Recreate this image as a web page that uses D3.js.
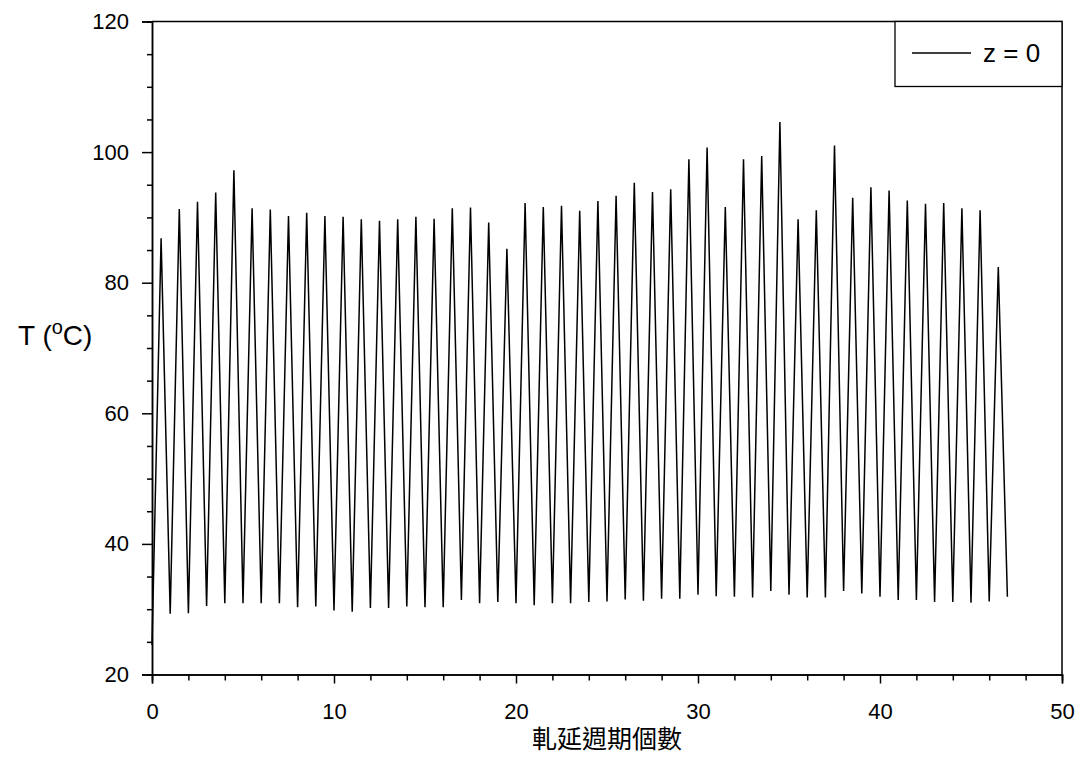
<!DOCTYPE html>
<html>
<head>
<meta charset="utf-8">
<script src="https://cdn.jsdelivr.net/npm/d3@7"></script>
<style>
  body { margin: 0; background: #ffffff; }
  text { font-family: "Liberation Sans", Arial, sans-serif; fill: #000; }
</style>
</head>
<body>
<script>
// Temperature at z = 0 over rolling cycles.
// Start value, then one peak (mid-cycle) and one trough (end of cycle) per cycle.
const startTemp = 24.5;
const peakTemps = [
  86.8, 91.3, 92.4, 93.8, 97.2, 91.4, 91.2, 90.2, 90.7, 90.2,
  90.1, 89.7, 89.5, 89.7, 90.1, 89.8, 91.4, 91.5, 89.2, 85.2,
  92.2, 91.6, 91.8, 91.0, 92.5, 93.3, 95.3, 93.9, 94.3, 98.9,
  100.7, 91.6, 98.9, 99.4, 104.6, 89.7, 91.1, 101.0, 93.0, 94.6,
  94.1, 92.6, 92.1, 92.2, 91.4, 91.1, 82.4
];
const troughTemps = [
  29.3, 29.4, 30.5, 30.9, 30.9, 30.9, 30.9, 30.3, 30.4, 29.8,
  29.6, 30.2, 30.2, 30.4, 30.3, 30.3, 31.4, 30.9, 31.1, 30.9,
  30.6, 30.9, 30.9, 31.1, 31.2, 31.5, 31.3, 31.6, 31.6, 32.2,
  32.0, 31.9, 31.8, 32.8, 32.2, 31.8, 31.8, 32.8, 32.4, 31.9,
  31.4, 31.4, 31.1, 31.1, 31.0, 31.2, 31.9
];
const xTicks = [0, 10, 20, 30, 40, 50];
const yTicks = [20, 40, 60, 80, 100, 120];
const seriesName = 'z = 0';
const xTitle = '軋延週期個數';

// Build the line points from the arrays.
const points = [{x: 0, y: startTemp}];
peakTemps.forEach((p, i) =>
  {
    points.push({x: i + 0.5, y: p});
    points.push({x: i + 1, y: troughTemps[i]});
  });

const size = {width: 1082, height: 784};
const plot = {left: 152, top: 21.5, right: 1062, bottom: 674.5};

const svg = d3.select('body')
      .append('svg')
      .attr('width', size.width)
      .attr('height', size.height);

const x = d3.scaleLinear().domain([0, 50]).range([plot.left, plot.right]);
const y = d3.scaleLinear().domain([20, 120]).range([plot.bottom, plot.top]);

// Data line.
const line = d3.line()
      .x((d) => x(d.x))
      .y((d) => y(d.y));

svg.append('path')
  .datum(points)
  .attr('d', line)
  .attr('fill', 'none')
  .attr('stroke', '#000')
  .attr('stroke-width', 1.5)
  .attr('stroke-linejoin', 'miter')
  .attr('stroke-miterlimit', 4);

// Frame (top and right).
svg.append('path')
  .attr('d', 'M' + x(0) + ',' + y(120) + 'H' + x(50) + 'V' + y(20))
  .attr('fill', 'none')
  .attr('stroke', '#000')
  .attr('stroke-width', 1.5);

// X axis: major and minor ticks.
const xAxis = d3.axisBottom(x)
      .tickValues(xTicks)
      .tickSize(9)
      .tickPadding(20)
      .tickFormat(d3.format('d'));
const xMinor = d3.axisBottom(x)
      .tickValues(d3.range(0, 51, 2).filter((v) => v % 10 !== 0))
      .tickSize(6)
      .tickFormat('');

svg.append('g')
  .attr('transform', 'translate(0,' + y(20) + ')')
  .call(xAxis);
svg.append('g')
  .attr('transform', 'translate(0,' + y(20) + ')')
  .call(xMinor);

// Y axis.
const yAxis = d3.axisLeft(y)
      .tickValues(yTicks)
      .tickSize(10)
      .tickPadding(13)
      .tickFormat(d3.format('d'));
const yMinor = d3.axisLeft(y)
      .tickValues(d3.range(20, 121, 5).filter((v) => v % 20 !== 0))
      .tickSize(5)
      .tickFormat('');

svg.append('g')
  .attr('transform', 'translate(' + x(0) + ',0)')
  .call(yAxis);
svg.append('g')
  .attr('transform', 'translate(' + x(0) + ',0)')
  .call(yMinor);

svg.selectAll('.domain')
  .attr('stroke', '#000')
  .attr('stroke-width', 1.5);
svg.selectAll('.tick line')
  .attr('stroke', '#000')
  .attr('stroke-width', 1.5);
svg.selectAll('.tick text')
  .style('font-family', '"Liberation Sans", Arial, sans-serif')
  .style('font-size', '22px')
  .attr('fill', '#000');

// Axis titles.
const yTitle = svg.append('text')
      .attr('x', 18)
      .attr('y', 345)
      .style('font-size', '28px');
yTitle.append('tspan').text('T (');
yTitle.append('tspan').text('o').style('font-size', '20px').attr('dy', -11);
yTitle.append('tspan').text('C)').attr('dy', 11);

svg.append('text')
  .attr('x', 607)
  .attr('y', 748)
  .attr('text-anchor', 'middle')
  .style('font-family', '"Noto Sans CJK TC", sans-serif')
  .style('font-size', '25px')
  .text(xTitle);

// Legend.
const legend = svg.append('g');
legend.append('rect')
  .attr('x', 895)
  .attr('y', plot.top)
  .attr('width', plot.right - 895)
  .attr('height', 65)
  .attr('fill', '#fff')
  .attr('stroke', '#000')
  .attr('stroke-width', 1.3);
legend.append('line')
  .attr('x1', 912).attr('x2', 971)
  .attr('y1', 53).attr('y2', 53)
  .attr('stroke', '#000')
  .attr('stroke-width', 1.5);
legend.append('text')
  .attr('x', 983)
  .attr('y', 62)
  .style('font-size', '26px')
  .text(seriesName);
</script>
</body>
</html>
